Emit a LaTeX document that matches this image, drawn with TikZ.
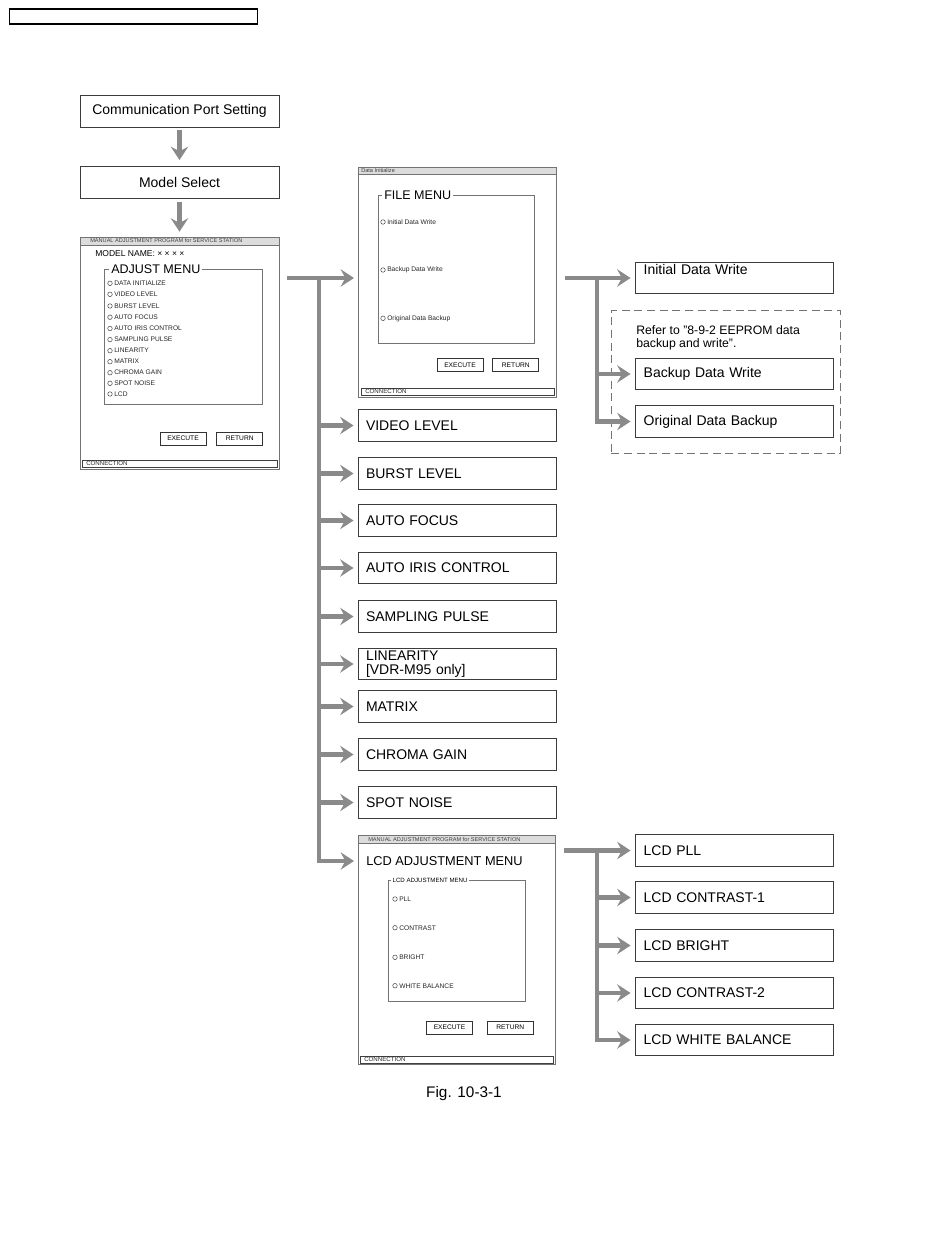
\documentclass[tikz,border=0pt]{standalone}
\usepackage{fontspec}
\setmainfont{Liberation Sans}
\usetikzlibrary{arrows.meta, positioning}
\definecolor{flowgray}{RGB}{138, 138, 138}
\definecolor{boxline}{RGB}{60, 60, 60}
\definecolor{wingray}{RGB}{115, 115, 115}
\definecolor{bargray}{RGB}{220, 220, 220}
\tikzset{
  startbox/.style = {
    rectangle,
    draw=boxline,
    fill=white,
    font=\fontsize{10.5}{12}\selectfont,
    minimum width=149.25pt,
    minimum height=24pt,
    inner sep=0pt,
    line width=0.7pt
  },
  menubox/.style = {
    rectangle,
    draw=boxline,
    fill=white,
    font=\fontsize{10.5}{11}\selectfont,
    text width=136.5pt,
    align=left,
    inner xsep=6pt,
    inner ysep=0pt,
    minimum height=23.5pt,
    line width=0.7pt
  },
  resultbox/.style = {
    menubox,
    text width=135.5pt,
    inner xsep=6.5pt
  },
  window/.style = {
    rectangle,
    draw=wingray,
    fill=white,
    anchor=north west,
    inner sep=0pt,
    line width=0.7pt
  },
  titlebar/.style = {
    rectangle,
    draw=wingray,
    fill=bargray,
    anchor=north west,
    inner sep=0pt,
    minimum height=6pt,
    line width=0.5pt
  },
  bartext/.style = {
    anchor=west,
    inner sep=0pt,
    text=black!75,
    font=\fontsize{4.2}{4.2}\selectfont
  },
  groupframe/.style = {
    draw=wingray,
    line width=0.6pt
  },
  grouplabel/.style = {
    anchor=west,
    fill=white,
    inner xsep=1.5pt,
    inner ysep=0pt,
    font=\fontsize{9.4}{10}\selectfont
  },
  radio/.style = {
    draw=black!70,
    line width=0.4pt
  },
  itemtext/.style = {
    anchor=west,
    inner sep=0pt,
    text=black!85,
    font=\fontsize{5}{6}\selectfont
  },
  winbutton/.style = {
    rectangle,
    draw=black!80,
    fill=white,
    minimum width=34.5pt,
    minimum height=9.75pt,
    inner sep=0pt,
    font=\fontsize{5}{6}\selectfont,
    line width=0.6pt
  },
  connbar/.style = {
    rectangle,
    draw=black!75,
    anchor=north west,
    minimum height=5.25pt,
    inner sep=0pt,
    line width=0.6pt
  },
  flowline/.style = {
    draw=flowgray,
    line width=3.2pt,
    line cap=rect
  },
  flowarrow/.style = {
    -{Stealth[length=10pt, width=13pt, inset=3.5pt]},
    draw=flowgray,
    line width=3.2pt,
    shorten >=3pt
  }
}

\begin{document}
\begin{tikzpicture}[x=0.75pt, y=-0.75pt]
  \useasboundingbox (0,0) rectangle (950,1237);

  % Header strip
  \node[draw=black, line width=0.8pt, anchor=north west, minimum width=186pt, minimum height=11.25pt, inner sep=0pt] (header) at (9,8.5) {};

  % Start of the program
  \node[startbox] (comport) at (179.5,111) {Communication Port Setting};
  \node[startbox] (modelsel) at (179.5,182.5) {Model Select};
  \draw[flowarrow, shorten <=2pt, shorten >=4.5pt] (comport) -- (modelsel);

  % Adjust menu window
  \node[window, minimum width=149.25pt, minimum height=174pt] (adjwin) at (80,237) {};
  \draw[flowarrow, shorten <=2pt, shorten >=4pt] (modelsel) -- (modelsel |- adjwin.north);
  \node[titlebar, minimum width=149.25pt] (adjbar) at (adjwin.north west) {};
  \node[bartext] (adjbartext) at (90,241) {MANUAL ADJUSTMENT PROGRAM for SERVICE STATION};
  \node[anchor=west, inner sep=0pt, font=\fontsize{6.4}{7}\selectfont] (modelname) at (95,254) {MODEL NAME: × × × ×};
  \draw[groupframe] (104,269) rectangle (262,404);
  \node[grouplabel] (adjmenu) at (109,269) {ADJUST MENU};
  \draw[radio] (110,283.3) circle (1.7pt);
  \node[itemtext] (adjdata) at (114,283.3) {DATA INITIALIZE};
  \draw[radio] (110,294.3) circle (1.7pt);
  \node[itemtext] (adjvideo) at (114,294.3) {VIDEO LEVEL};
  \draw[radio] (110,306) circle (1.7pt);
  \node[itemtext] (adjburst) at (114,306) {BURST LEVEL};
  \draw[radio] (110,317.2) circle (1.7pt);
  \node[itemtext] (adjfocus) at (114,317.2) {AUTO FOCUS};
  \draw[radio] (110,328.5) circle (1.7pt);
  \node[itemtext] (adjiris) at (114,328.5) {AUTO IRIS CONTROL};
  \draw[radio] (110,339.6) circle (1.7pt);
  \node[itemtext] (adjpulse) at (114,339.6) {SAMPLING PULSE};
  \draw[radio] (110,350.7) circle (1.7pt);
  \node[itemtext] (adjlin) at (114,350.7) {LINEARITY};
  \draw[radio] (110,361.7) circle (1.7pt);
  \node[itemtext] (adjmatrix) at (114,361.7) {MATRIX};
  \draw[radio] (110,372.7) circle (1.7pt);
  \node[itemtext] (adjchroma) at (114,372.7) {CHROMA GAIN};
  \draw[radio] (110,383.3) circle (1.7pt);
  \node[itemtext] (adjspot) at (114,383.3) {SPOT NOISE};
  \draw[radio] (110,394) circle (1.7pt);
  \node[itemtext] (adjlcd) at (114,394) {LCD};
  \node[winbutton] (adjexec) at (183,438.5) {EXECUTE};
  \node[winbutton, right=7.5pt of adjexec] (adjret) {RETURN};
  \node[connbar, minimum width=146.25pt] (adjconn) at (82,460) {};
  \node[itemtext, font=\fontsize{4.6}{5}\selectfont] (adjconntext) at (86,463.6) {CONNECTION};

  % Data initialize window
  \node[window, minimum width=148.5pt, minimum height=172.5pt] (datawin) at (358,167) {};
  \node[titlebar, minimum width=148.5pt, minimum height=5.5pt] (databar) at (datawin.north west) {};
  \node[bartext] (databartext) at (361,170.7) {Data Initialize};
  \draw[groupframe] (378,195) rectangle (534,343);
  \node[grouplabel] (filemenu) at (382,195) {FILE MENU};
  \draw[radio] (383,222) circle (1.7pt);
  \node[itemtext] (fileinit) at (387,222) {Initial Data Write};
  \draw[radio] (383,270) circle (1.7pt);
  \node[itemtext] (filebackup) at (387,270) {Backup Data Write};
  \draw[radio] (383,318.3) circle (1.7pt);
  \node[itemtext] (fileorig) at (387,318.3) {Original Data Backup};
  \node[winbutton] (dataexec) at (460,365) {EXECUTE};
  \node[winbutton, right=6.75pt of dataexec] (dataret) {RETURN};
  \node[connbar, minimum width=144.75pt] (dataconn) at (361,388) {};
  \node[itemtext, font=\fontsize{4.6}{5}\selectfont] (dataconntext) at (365,391.6) {CONNECTION};

  % Adjustment items
  \node[menubox] (video) at (457,425.5) {VIDEO LEVEL};
  \node[menubox] (burst) at (457,473.5) {BURST LEVEL};
  \node[menubox] (focus) at (457,520.5) {AUTO FOCUS};
  \node[menubox] (iris) at (457,568) {AUTO IRIS CONTROL};
  \node[menubox] (pulse) at (457,616.5) {SAMPLING PULSE};
  \node[menubox] (linearity) at (457,664) {LINEARITY\\{}[VDR-M95 only]};
  \node[menubox] (matrix) at (457,706.5) {MATRIX};
  \node[menubox] (chroma) at (457,754.5) {CHROMA GAIN};
  \node[menubox] (spot) at (457,802.5) {SPOT NOISE};

  % LCD adjustment window
  \node[window, minimum width=147.75pt, minimum height=171.75pt] (lcdwin) at (358,835) {};
  \node[titlebar, minimum width=147.75pt] (lcdbar) at (lcdwin.north west) {};
  \node[bartext] (lcdbartext) at (368,839) {MANUAL ADJUSTMENT PROGRAM for SERVICE STATION};
  \node[anchor=west, inner sep=0pt, font=\fontsize{9.6}{10}\selectfont] (lcdhead) at (366,861) {LCD ADJUSTMENT MENU};
  \draw[groupframe] (388,880) rectangle (525.5,1001.5);
  \node[grouplabel, font=\fontsize{4.6}{5}\selectfont, inner xsep=1pt] (lcdgroup) at (391,880) {LCD ADJUSTMENT MENU};
  \draw[radio] (395,899) circle (1.7pt);
  \node[itemtext] (lcdpllitem) at (399,899) {PLL};
  \draw[radio] (395,927.7) circle (1.7pt);
  \node[itemtext] (lcdconitem) at (399,927.7) {CONTRAST};
  \draw[radio] (395,957.3) circle (1.7pt);
  \node[itemtext] (lcdbrightitem) at (399,957.3) {BRIGHT};
  \draw[radio] (395,985.7) circle (1.7pt);
  \node[itemtext] (lcdwbitem) at (399,985.7) {WHITE BALANCE};
  \node[winbutton] (lcdexec) at (449.5,1027.5) {EXECUTE};
  \node[winbutton, right=10.5pt of lcdexec] (lcdret) {RETURN};
  \node[connbar, minimum width=144.75pt] (lcdconn) at (360,1056) {};
  \node[itemtext, font=\fontsize{4.6}{5}\selectfont] (lcdconntext) at (364,1059.6) {CONNECTION};

  % Main branch line
  \coordinate (mainstart) at (287,278);
  \coordinate (mainjoin) at (319,278);
  \draw[flowarrow] (mainstart) -- (datawin.west |- mainstart);
  \draw[flowline] (mainjoin) -- (mainjoin |- lcdhead);
  \draw[flowarrow] (mainjoin |- video) -- (video);
  \draw[flowarrow] (mainjoin |- burst) -- (burst);
  \draw[flowarrow] (mainjoin |- focus) -- (focus);
  \draw[flowarrow] (mainjoin |- iris) -- (iris);
  \draw[flowarrow] (mainjoin |- pulse) -- (pulse);
  \draw[flowarrow] (mainjoin |- linearity) -- (linearity);
  \draw[flowarrow] (mainjoin |- matrix) -- (matrix);
  \draw[flowarrow] (mainjoin |- chroma) -- (chroma);
  \draw[flowarrow] (mainjoin |- spot) -- (spot);
  \draw[flowarrow] (mainjoin |- lcdhead) -- (lcdwin.west |- lcdhead);

  % Data initialize results
  \node[draw=wingray, dash pattern=on 6pt off 3.5pt, line width=0.7pt, anchor=north west, minimum width=171.75pt, minimum height=107.25pt, inner sep=0pt] (eepromzone) at (611,310) {};
  \node[anchor=north west, inner sep=0pt, align=left, font=\fontsize{9.2}{10}\selectfont] (eepromnote) at (636,325) {Refer to "8-9-2 EEPROM data\\backup and write".};
  \node[resultbox, text height=7.5pt, text depth=12pt, inner ysep=0pt] (initwrite) at (734,278) {Initial Data Write};
  \node[resultbox] (bkwrite) at (734,374) {Backup Data Write};
  \node[resultbox] (origbackup) at (734,421.5) {Original Data Backup};
  \coordinate (filestart) at ([xshift=6pt]datawin.east |- initwrite);
  \coordinate (filejoin) at (597,278);
  \draw[flowarrow] (filestart) -- (initwrite);
  \draw[flowline] (filejoin) -- (filejoin |- origbackup);
  \draw[flowarrow] (filejoin |- bkwrite) -- (bkwrite);
  \draw[flowarrow] (filejoin |- origbackup) -- (origbackup);

  % LCD results
  \node[resultbox] (lcdpll) at (734,850.5) {LCD PLL};
  \node[resultbox] (lcdcon1) at (734,897.5) {LCD CONTRAST-1};
  \node[resultbox] (lcdbright) at (734,945.5) {LCD BRIGHT};
  \node[resultbox] (lcdcon2) at (734,993) {LCD CONTRAST-2};
  \node[resultbox] (lcdwb) at (734,1040) {LCD WHITE BALANCE};
  \coordinate (lcdstart) at ([xshift=6pt]lcdwin.east |- lcdpll);
  \coordinate (lcdjoin) at (597,850.5);
  \draw[flowarrow] (lcdstart) -- (lcdpll);
  \draw[flowline] (lcdjoin) -- (lcdjoin |- lcdwb);
  \draw[flowarrow] (lcdjoin |- lcdcon1) -- (lcdcon1);
  \draw[flowarrow] (lcdjoin |- lcdbright) -- (lcdbright);
  \draw[flowarrow] (lcdjoin |- lcdcon2) -- (lcdcon2);
  \draw[flowarrow] (lcdjoin |- lcdwb) -- (lcdwb);

  % Caption
  \node[font=\fontsize{11.5}{12}\selectfont] (figcap) at (464,1094) {Fig. 10-3-1};
\end{tikzpicture}
\end{document}
